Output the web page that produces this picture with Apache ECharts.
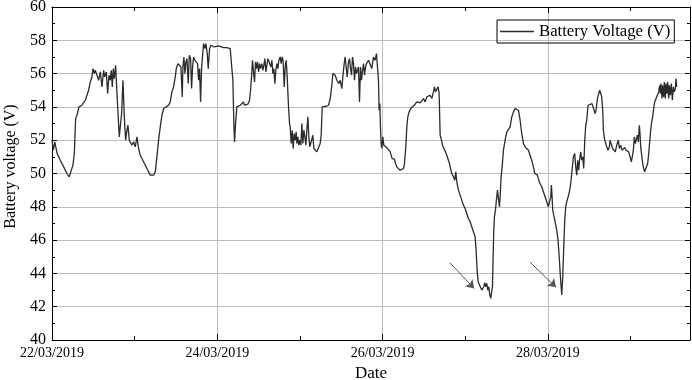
<!DOCTYPE html>
<html>
<head>
<meta charset="utf-8">
<script src="https://cdn.jsdelivr.net/npm/echarts@6/dist/echarts.min.js"></script>
<style>
  html, body { margin: 0; padding: 0; background: #fff; }
  #chart { width: 692px; height: 380px; }
</style>
</head>
<body>
<div id="chart"></div>
<script>
// hours since 22/03/2019 00:00
const hours = [
  0.0, 0.4, 0.8, 1.1, 1.5, 2.41, 3.38, 3.87, 4.35, 5.03, 5.12, 5.61, 6.09, 6.48, 6.87, 7.25, 7.83, 8.7, 9.67, 10.15,
  10.64, 11.12, 11.61, 11.9, 12.28, 12.57, 13.06, 13.54, 14.03, 14.51, 15.0, 15.28, 15.77, 16.16, 16.54, 16.93, 17.22, 17.51, 17.8, 18.09,
  18.48, 18.77, 19.16, 19.54, 19.83, 20.22, 20.61, 21.0, 21.38, 21.77, 22.06, 22.44,
  22.73, 23.21, 23.7, 24.18, 24.67, 25.15, 25.63, 26.12, 26.6, 27.09, 27.57, 28.05, 28.54, 29.02, 29.51, 29.99, 30.47, 30.96,
  31.44, 31.93, 32.41, 33.18, 33.86, 34.35, 34.83, 35.31, 35.8, 36.09, 36.57, 37.06, 37.44, 37.83, 38.02, 38.31, 38.6, 38.89,
  39.19, 39.57, 39.86, 40.25, 40.54, 40.83, 41.12, 41.51, 41.9, 42.28, 42.57, 42.86, 43.15, 43.44, 43.74, 44.03, 44.41, 44.7,
  45.09, 45.38, 45.77, 46.16,
  46.72, 47.11, 47.69, 48.37, 48.85, 49.82, 50.79, 51.76, 52.24, 52.53, 52.82, 53.02, 53.31, 53.69, 54.18, 54.66, 55.15, 55.63,
  55.92, 56.4, 56.89, 57.37, 57.66, 57.95, 58.24, 58.53, 58.82, 59.11, 59.4, 59.7, 59.99, 60.28, 60.57, 60.95, 61.24, 61.53,
  61.83, 62.12, 62.41, 62.7, 62.99, 63.28, 63.57, 63.86, 64.15, 64.44, 64.73, 65.02, 65.31, 65.6, 65.89, 66.28, 66.57, 66.86,
  67.15, 67.44, 67.73, 68.02, 68.31, 68.7, 68.99,
  69.18, 69.47, 69.76, 70.05, 70.34, 70.63, 70.92, 71.12, 71.41, 71.7, 71.99, 72.28, 72.57, 72.86, 73.15, 73.44, 73.73, 74.02,
  74.31, 74.6, 74.89, 75.18, 75.47, 75.76, 76.05, 76.44, 76.92, 77.41, 77.89, 78.18, 78.47, 78.86, 79.63, 80.31, 80.8, 81.28,
  81.57, 81.96, 82.25, 82.73, 83.02, 83.31, 83.7, 84.18, 84.47, 84.86, 85.15, 85.44, 85.73, 86.12, 86.41, 86.7, 86.99, 87.28,
  87.57, 87.86, 88.15, 88.44, 88.73, 89.02, 89.31, 89.6, 89.89, 90.19, 90.48, 90.77, 91.06, 91.35, 91.64, 91.93, 92.22,
  92.88, 93.37, 93.85, 94.24, 94.53, 94.82, 95.01, 95.21, 95.4, 95.59, 95.79, 96.08, 96.37, 96.66, 97.24, 97.72, 98.21, 98.5,
  98.79, 99.18, 99.47, 99.76, 100.14, 100.63, 101.11, 101.6, 102.08, 102.37, 102.76, 103.05, 103.34, 103.73, 104.21, 104.79,
  105.47, 105.95, 106.44, 106.92, 107.4, 107.89, 108.37, 108.86, 109.34, 109.82, 110.31, 110.79, 111.08, 111.37, 111.76, 112.15,
  112.44, 112.73, 113.02, 113.41, 113.89, 114.28, 114.66, 115.05, 115.44,
  115.63, 116.11, 116.6, 116.99, 117.28, 117.57, 118.05, 118.53, 119.02, 119.5, 119.99, 120.47, 120.95, 121.44, 121.92, 122.41,
  122.89, 123.18, 123.47, 123.76, 124.15, 124.54, 124.83, 125.12, 125.41, 125.7, 125.99, 126.28, 126.57, 126.86, 127.15, 127.44,
  127.73, 127.92, 128.12, 128.31, 128.5, 128.79, 129.08, 129.38, 129.67, 129.96, 130.15, 130.44, 130.73, 131.12, 131.6, 132.09,
  132.57, 133.05, 133.54, 134.02, 134.51, 134.99, 135.47, 135.96, 136.44, 136.93, 137.41, 137.89, 138.38,
  138.85, 139.33, 139.82, 140.21, 140.59, 140.98, 141.37, 141.75, 142.24, 142.72, 143.21, 143.69, 144.17, 144.46, 144.66, 144.85,
  145.05, 145.24, 145.43, 145.82, 146.21, 146.59, 146.98, 147.37, 147.66, 148.05, 148.34, 148.63, 148.92, 149.21, 149.5, 149.89,
  150.27, 150.66, 151.05, 151.43, 151.82, 152.11, 152.4, 152.69, 152.98, 153.27, 153.56, 153.85, 154.14, 154.43, 154.73, 155.02,
  155.31, 155.69, 156.27, 156.85, 157.24, 157.73, 158.02, 158.4, 158.79, 159.08, 159.37, 159.66, 159.95, 160.15, 160.44, 160.73,
  161.11, 161.5, 161.89,
  162.07, 162.55, 162.84, 163.23, 163.62, 164.01, 164.49, 164.78, 165.17, 165.55, 165.94, 166.33, 166.72, 167.1, 167.49, 167.88,
  168.27, 168.56, 168.85, 169.14, 169.43, 169.72, 170.01, 170.3, 170.59, 170.78, 170.98, 171.27, 171.56, 171.85, 172.14, 172.43,
  172.72, 173.01, 173.3, 173.59, 173.88, 174.17, 174.46, 174.75, 175.04, 175.33, 175.62, 175.91, 176.2, 176.49, 176.69, 176.88,
  177.17, 177.36, 177.65, 177.85, 178.14, 178.33, 178.62, 178.82, 179.11, 179.3, 179.59, 179.88, 180.17, 180.46, 180.75, 181.04,
  181.24, 181.43
];

const voltage = [
  52.0, 51.4, 51.9, 52.0, 51.2, 50.8, 50.4, 50.3, 50.0, 49.8, 49.7, 50.2, 50.5, 51.2, 53.3, 53.5, 54.0, 54.1, 54.4, 54.7,
  55.0, 55.5, 55.8, 56.3, 56.0, 56.2, 55.9, 55.6, 56.1, 55.2, 56.2, 55.8, 56.1, 54.8, 55.9, 55.6, 56.2, 55.2, 56.3, 55.7,
  56.5, 55.2, 55.1, 52.2, 52.1, 53.6, 55.6, 53.4, 52.0, 52.6, 52.9, 52.0,
  52.1, 51.7, 51.9, 51.6, 52.2, 51.5, 51.1, 50.9, 50.8, 50.5, 50.4, 50.1, 49.9, 49.8, 49.9, 50.1, 51.0, 52.0,
  52.8, 53.5, 53.9, 54.0, 54.1, 54.3, 54.9, 55.2, 55.8, 56.3, 56.6, 56.7, 56.4, 54.6, 56.4, 57.0, 56.0, 56.7,
  56.9, 55.4, 57.1, 56.9, 55.1, 56.4, 57.0, 56.8, 56.9, 56.6, 55.6, 56.3, 54.3, 56.3, 57.1, 57.8, 57.5, 57.8,
  57.2, 56.3, 57.5, 57.7,
  57.7, 57.6, 57.7, 57.66, 57.6, 57.56, 57.56, 57.5, 57.5, 55.6, 53.0, 51.9, 53.0, 54.0, 54.1, 54.1, 54.1, 54.3,
  54.1, 54.1, 54.16, 54.4, 55.0, 55.8, 56.8, 56.1, 55.5, 56.7, 56.3, 56.7, 56.1, 56.6, 56.3, 56.6, 56.2, 56.5,
  56.9, 56.1, 56.0, 56.9, 56.8, 57.0, 56.4, 56.8, 56.0, 56.3, 55.4, 56.2, 56.6, 56.3, 56.8, 57.0, 56.6, 57.0,
  56.7, 55.2, 56.4, 56.8, 55.8, 54.0, 53.0,
  52.8, 51.8, 52.6, 51.5, 52.4, 52.0, 52.5, 51.8, 52.2, 51.7, 52.0, 51.7, 53.0, 51.8, 52.6, 52.2, 51.7, 52.6,
  53.4, 52.2, 51.6, 51.6, 51.5, 52.3, 51.5, 51.4, 51.3, 51.2, 51.8, 52.3, 54.0, 54.04, 54.04, 54.1, 54.5, 55.3,
  56.0, 56.04, 55.9, 55.6, 55.7, 55.4, 55.6, 55.1, 55.8, 56.6, 57.0, 56.4, 55.8, 56.7, 56.9, 56.3, 55.9, 57.0,
  56.6, 55.6, 56.4, 56.0, 56.2, 56.4, 54.3, 56.4, 55.6, 56.2, 56.6, 55.9, 56.4, 56.6, 56.7, 56.8, 56.9,
  56.3, 57.0, 56.8, 57.2, 56.4, 55.6, 53.8, 54.2, 52.8, 51.8, 51.5, 52.2, 51.7, 51.6, 51.56, 51.5, 51.3, 51.1,
  50.9, 50.8, 50.86, 50.6, 50.4, 50.3, 50.2, 50.2, 50.3, 50.6, 51.6, 52.8, 53.4, 53.7, 53.9, 54.0,
  54.16, 54.3, 54.2, 54.24, 54.3, 54.5, 54.3, 54.6, 54.5, 54.7, 54.5, 54.9, 55.2, 54.9, 54.8, 55.2,
  54.8, 52.3, 52.1, 51.7, 51.6, 51.3, 51.1, 51.0, 50.6,
  50.4, 50.0, 49.8, 49.6, 50.1, 49.5, 49.0, 48.7, 48.4, 48.1, 47.9, 47.6, 47.3, 47.1, 46.8, 46.5,
  46.2, 45.4, 44.2, 43.5, 43.3, 43.2, 43.0, 42.9, 43.2, 43.44, 43.2, 43.4, 43.0, 43.2, 42.7, 42.5,
  42.4, 43.2, 45.0, 46.6, 47.4, 47.8, 48.4, 49.0, 49.1, 48.0, 48.6, 49.8, 50.4, 51.4, 52.0, 52.5,
  52.6, 52.8, 53.4, 53.7, 53.9, 53.96, 53.8, 53.2, 52.4, 51.8, 51.6, 51.5, 51.4,
  51.1, 50.8, 50.4, 50.0, 49.9, 49.9, 49.6, 49.4, 49.2, 48.9, 48.6, 48.3, 48.0, 47.9, 48.0, 48.6,
  49.3, 48.6, 47.8, 47.4, 47.0, 46.6, 46.0, 44.8, 43.8, 42.7, 43.8, 45.6, 47.2, 48.0, 48.3, 48.6,
  48.9, 49.4, 50.2, 51.0, 51.2, 50.4, 49.9, 50.8, 50.2, 50.9, 51.3, 50.8, 51.0, 50.3, 52.0, 52.9,
  53.2, 54.1, 54.2, 54.2, 54.1, 53.6, 53.8, 54.5, 54.8, 55.0, 54.9, 54.6, 53.8, 52.6, 52.1, 52.0,
  51.6, 51.4, 51.6,
  52.0, 51.9, 51.5, 51.4, 51.3, 51.7, 52.0, 51.5, 51.7, 51.4, 51.5, 51.56, 51.4, 51.4, 51.3, 51.0,
  50.7, 50.6, 51.4, 52.2, 51.8, 51.7, 52.3, 51.9, 52.9, 52.4, 51.6, 51.1, 50.6, 50.3, 50.1, 50.04,
  50.2, 50.6, 51.2, 51.9, 52.6, 53.1, 53.4, 53.9, 54.3, 54.4, 54.6, 54.5, 54.9, 55.3, 54.8, 55.4,
  54.5, 55.3, 54.6, 55.5, 54.5, 55.4, 54.8, 55.5, 54.5, 55.3, 54.7, 55.4, 54.4, 55.2, 54.9, 55.1,
  55.7, 55.2
];

// annotation arrows: [startHour, startV, endHour, endV]
const arrows = [
  [115.5, 44.65, 122.6, 43.1],
  [138.85, 44.67, 146.4, 43.17]
];

const START = Date.UTC(2019, 2, 22);
const HOUR_MAX = 185.3;
const FONT = "'Liberation Serif', 'Times New Roman', serif";

function formatDay(h) {
  const d = new Date(START + h * 3600000);
  const dd = String(d.getUTCDate()).padStart(2, '0');
  const mm = String(d.getUTCMonth() + 1).padStart(2, '0');
  return `${dd}/${mm}/${d.getUTCFullYear()}`;
}

const chart = echarts.init(document.getElementById('chart'), null, { renderer: 'canvas' });

const baseX = {
  type: 'value',
  min: 0,
  max: HOUR_MAX,
  axisLine: { show: false, onZero: false },
  axisLabel: { show: false },
  splitLine: { show: false },
  axisTick: { show: true, inside: true, length: 6, lineStyle: { color: '#000' } }
};

const baseY = {
  type: 'value',
  min: 40,
  max: 60,
  interval: 2,
  axisLine: { show: true, onZero: false, lineStyle: { color: '#000', width: 1 } },
  axisTick: { show: true, inside: true, length: 5, lineStyle: { color: '#000' } },
  minorTick: { show: true, splitNumber: 2, length: 3, lineStyle: { color: '#000' } }
};

chart.setOption({
  animation: false,
  backgroundColor: '#fff',
  grid: { left: 52, right: 2, top: 7, bottom: 40, outerBoundsMode: 'none' },
  legend: {
    left: 497,
    top: 20,
    data: [{ name: 'Battery Voltage (V)', icon: 'rect' }],
    itemWidth: 34,
    itemHeight: 1.5,
    padding: [2, 4, 2, 3],
    borderColor: '#000',
    borderWidth: 1,
    textStyle: { fontFamily: FONT, fontSize: 16.7, color: '#000', lineHeight: 19 }
  },
  xAxis: [
    {
      ...baseX,
      position: 'bottom',
      interval: 48,
      name: 'Date',
      nameLocation: 'middle',
      nameGap: 22,
      nameTextStyle: { fontFamily: FONT, fontSize: 17, color: '#000' },
      axisLine: { show: true, onZero: false, lineStyle: { color: '#000', width: 1 } },
      axisLabel: {
        show: true,
        showMaxLabel: false,
        margin: 6,
        fontFamily: FONT,
        fontSize: 14,
        color: '#000',
        formatter: formatDay
      },
      splitLine: { show: true, lineStyle: { color: '#bdbdbd', width: 1 } }
    },
    { ...baseX, position: 'bottom', interval: 24, axisTick: { ...baseX.axisTick, length: 4 } },
    {
      ...baseX,
      position: 'top',
      interval: 48,
      axisLine: { show: true, onZero: false, lineStyle: { color: '#000', width: 1 } }
    },
    { ...baseX, position: 'top', interval: 24, axisTick: { ...baseX.axisTick, length: 4 } }
  ],
  yAxis: [
    {
      ...baseY,
      position: 'left',
      name: 'Battery voltage (V)',
      nameLocation: 'middle',
      nameGap: 33,
      nameTextStyle: { fontFamily: FONT, fontSize: 16, color: '#000', padding: [0, 0, 0, 14] },
      axisLabel: { margin: 6, fontFamily: FONT, fontSize: 16, color: '#000' },
      splitLine: { show: true, lineStyle: { color: '#bdbdbd', width: 1 } }
    },
    {
      ...baseY,
      position: 'right',
      axisLabel: { show: false },
      splitLine: { show: false }
    }
  ],
  series: [
    {
      name: 'Battery Voltage (V)',
      type: 'line',
      xAxisIndex: 0,
      yAxisIndex: 0,
      symbol: 'none',
      showSymbol: false,
      lineStyle: { color: '#2b2b2b', width: 1.3 },
      itemStyle: { color: '#2b2b2b' },
      data: hours.map((h, i) => [h, voltage[i]]),
      markLine: {
        silent: true,
        symbol: ['none', 'arrow'],
        symbolSize: 8,
        label: { show: false },
        lineStyle: { color: '#555', width: 1, type: 'solid' },
        data: arrows.map((a) => [{ coord: [a[0], a[1]] }, { coord: [a[2], a[3]] }])
      }
    }
  ]
});
</script>
</body>
</html>
